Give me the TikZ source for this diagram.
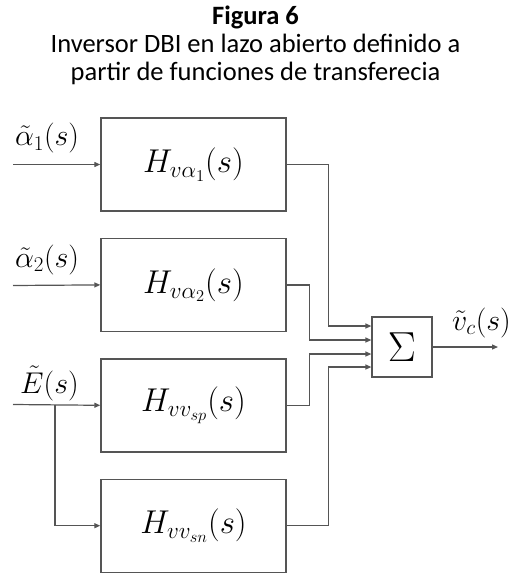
\RequirePackage{fix-cm}
\documentclass[tikz,border=0pt]{standalone}
\usepackage{amsmath}
\usepackage{fontspec}
\setmainfont{Carlito}
\usepackage{tikz}
\usetikzlibrary{arrows.meta,positioning,calc}
\definecolor{cline}{RGB}{85,85,85}
\begin{document}
\begin{tikzpicture}[x=1pt,y=1pt,>={Triangle[length=6pt,width=5pt]},
node distance=26pt,
box/.style={draw=cline,line width=1.4pt,minimum width=185pt,minimum height=93pt,inner sep=0pt,font=\fontsize{33}{38}\selectfont},
sumbox/.style={draw=cline,line width=1.2pt,minimum width=60pt,minimum height=60pt,inner sep=0pt,font=\fontsize{42}{48}\selectfont},
lbl/.style={anchor=base west,inner sep=0pt,font=\fontsize{30}{34}\selectfont},
arr/.style={->,draw=cline,line width=1.2pt}]
\useasboundingbox (0,0) rectangle (511,-575);
% title
\node[align=center,anchor=north,inner sep=0pt,font=\fontsize{26.5}{28}\selectfont] (title) at (255.5,-6) {\textbf{Figura 6}\\Inversor DBI en lazo abierto definido a\\partir de funciones de transferecia};
% blocks
\node[box] (b1) at (193.5,-164.5) {$H_{v\alpha_1}(s)$};
\node[box,below=of b1] (b2) {$H_{v\alpha_2}(s)$};
\node[box,below=of b2] (b3) {$H_{vv_{sp}}(s)$};
\node[box,below=of b3] (b4) {$H_{vv_{sn}}(s)$};
\node[sumbox] (sum) at (402,-347) {$\Sigma$};
% inputs
\coordinate (in1) at (13,-164.5);
\coordinate (in2) at (13,-285.5);
\coordinate (in3) at (13,-404.5);
\coordinate (br) at (55,-404.5);
\coordinate (out) at (498,-347);
\node[lbl] (la1) at (15,-146) {$\tilde{\alpha}_1(s)$};
\node[lbl] (la2) at (15,-267) {$\tilde{\alpha}_2(s)$};
\node[lbl] (le) at (20,-393) {$\tilde{E}(s)$};
\node[lbl] (lv) at (452,-330) {$\tilde{v}_c(s)$};
\draw[arr] (in1) -- (b1.west);
\draw[arr] (in2) -- (b2.west);
\draw[arr] (in3) -- (b3.west);
\draw[arr] (br) |- (b4.west);
% to the sum
\draw[arr] (b1.east) -- ++(42,0) |- ($(sum.west)+(0,21)$);
\draw[arr] (b2.east) -- ++(23,0) |- ($(sum.west)+(0,7)$);
\draw[arr] (b3.east) -- ++(23,0) |- ($(sum.west)+(0,-7)$);
\draw[arr] (b4.east) -- ++(42,0) |- ($(sum.west)+(0,-20)$);
\draw[arr] (sum) -- (out);
\end{tikzpicture}
\end{document}
